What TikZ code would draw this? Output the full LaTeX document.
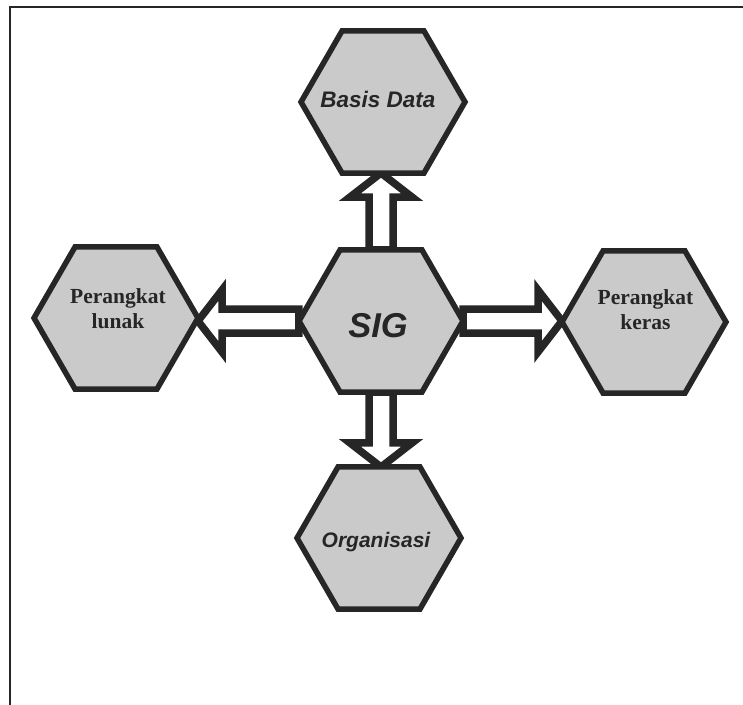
\documentclass[tikz,border=0pt]{standalone}
\usepackage{fontspec}
\setmainfont{Liberation Serif}
\setsansfont{Liberation Sans}
\usetikzlibrary{shapes.geometric,calc,backgrounds}
\definecolor{ink}{RGB}{38,38,38}
\definecolor{hexfill}{RGB}{202,202,202}

% hollow block arrow from #1 to #2 (tip at #2)
\newcommand\blockarrow[2]{%
  \coordinate (headbase) at ($(#2)!24bp!(#1)$);
  \draw[flowarrow]
    ($(#1)!12bp!90:(#2)$) --
    ($(headbase)!12bp!90:(#2)$) --
    ($(headbase)!31bp!90:(#2)$) --
    (#2) --
    ($(headbase)!31bp!-90:(#2)$) --
    ($(headbase)!12bp!-90:(#2)$) --
    ($(#1)!12bp!-90:(#2)$) -- cycle;
}

\begin{document}
\begin{tikzpicture}[x=1bp,y=-1bp,
  hexnode/.style={regular polygon,regular polygon sides=6,minimum size=164bp,
    inner sep=0pt,outer sep=0pt,draw=ink,fill=hexfill,line width=5.5bp,line join=miter},
  flowarrow/.style={draw=ink,fill=white,line width=7.5bp,line join=miter},
  sanslabel/.style={text=ink,inner sep=0pt,
    font=\sffamily\bfseries\itshape\fontsize{#1}{#1}\selectfont},
  seriflabel/.style={text=ink,inner sep=0pt,align=center,
    font=\rmfamily\bfseries\fontsize{21.5bp}{25bp}\selectfont},
  framestyle/.style={draw=ink,line width=2bp}]
\useasboundingbox (0,0) rectangle (743,705);

% page frame (left and top edges)
\draw[framestyle] (10,705) -- (10,7) -- (743,7);

% hexagons
\node[hexnode] (hbd)  at (383,102) {};
\node[hexnode] (hsig) at (381,321) {};
\node[hexnode] (hpl)  at (116,318) {};
\node[hexnode] (hpk)  at (644,322) {};
\node[hexnode] (horg) at (379,538) {};

% labels
\node[sanslabel=22.5bp,anchor=base] (tbd)  at (378,108) {Basis Data};
\node[sanslabel=34.5bp,anchor=base] (tsig) at (378,337) {SIG};
\node[sanslabel=21bp,anchor=base]   (torg) at (376,547) {Organisasi};
\node[seriflabel] (tpl) at (118,308.5) {Perangkat\\lunak};
\node[seriflabel] (tpk) at (645.5,310) {Perangkat\\keras};

% arrows behind the hexagons
\begin{scope}[on background layer]
  \blockarrow{hsig.north}{hsig.north |- hbd.south}
  \blockarrow{hsig.south}{hsig.south |- horg.north}
  \blockarrow{hsig.west}{hsig.west -| hpl.east}
  \blockarrow{hsig.east}{hsig.east -| hpk.west}
\end{scope}
\end{tikzpicture}
\end{document}
